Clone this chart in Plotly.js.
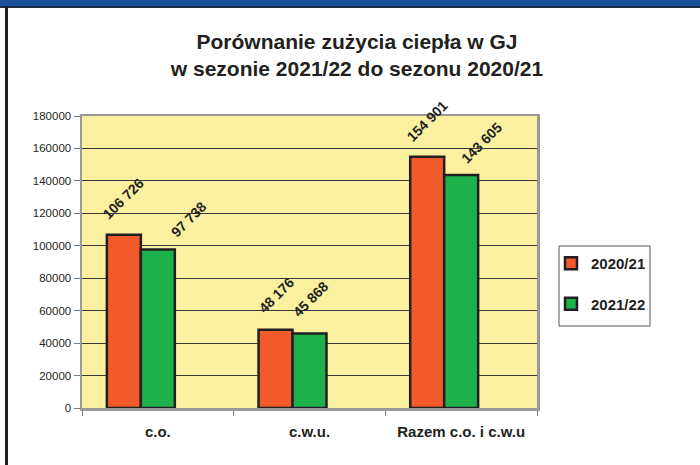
<!DOCTYPE html>
<html>
<head>
<meta charset="utf-8">
<script src="https://cdn.plot.ly/plotly-3.0.1.min.js"></script>
<style>
  html, body { margin: 0; padding: 0; background: #ffffff; }
  #wrap { position: relative; width: 700px; height: 465px; overflow: hidden; }
  #chart { position: absolute; left: 0; top: 0; width: 700px; height: 465px; }
  #band { position: absolute; left: 0; top: 0; width: 700px; height: 6px; background: #1a4f9a; border-bottom: 2px solid #1c2a44; z-index: 5; }
  #leftline { position: absolute; left: 5px; top: 6px; width: 3px; height: 459px; background: #231f20; z-index: 5; }
</style>
</head>
<body>
<div id="wrap">
  <div id="chart"></div>
  <div id="band"></div>
  <div id="leftline"></div>
</div>
<script>
// ---- data ----
const categories = ["c.o.", "c.w.u.", "Razem c.o. i c.w.u"];
const seriesNames = ["2020/21", "2021/22"];
const values2020 = [106726, 48176, 154901];
const values2021 = [97738, 45868, 143605];
const yTickVals = [0, 20000, 40000, 60000, 80000, 100000, 120000, 140000, 160000, 180000];
const titleText = "Porównanie zużycia ciepła w GJ<br>w sezonie 2021/22 do sezonu 2020/21";

// ---- style ----
const colors = ["#f15a29", "#1db04b"];
const outline = "#231f20";
const font = "Liberation Sans, Arial, sans-serif";
const W = 700, H = 465;
const plotL = 82, plotR = 163, plotT = 116, plotB = 57;
const plotW = W - plotL - plotR;
const plotH = H - plotT - plotB;
const catPx = plotW / categories.length;
const barW = 0.224;
const offsets = [-0.336, -0.112];
// label pixel nudges (per series, per point)
const labelDx = [[0, 1, 0], [31, 1, 20]];
const labelDy = [[10, 11, 9], [7, 11, 6]];
const px2x = p => (p - plotL) / plotW;
const px2y = p => (H - plotB - p) / plotH;

function fmt(v) { return String(v).replace(/\B(?=(\d{3})+(?!\d))/g, " "); }

const seriesVals = [values2020, values2021];
const traces = seriesVals.map((vals, i) => ({
  type: "bar",
  name: seriesNames[i],
  x: categories,
  y: vals,
  width: barW,
  offset: offsets[i],
  legendgroup: "g" + i,
  marker: { color: colors[i], line: { color: outline, width: 2.5 } },
  hoverinfo: "none"
}));

const annotations = [];
seriesVals.forEach((vals, i) => {
  vals.forEach((v, j) => {
    const centerUnits = offsets[i] + barW / 2;
    annotations.push({
      x: categories[j], y: v, xref: "x", yref: "y",
      text: fmt(v),
      showarrow: false,
      textangle: -45,
      xanchor: "center", yanchor: "bottom",
      xshift: centerUnits * catPx + labelDx[i][j],
      yshift: labelDy[i][j],
      font: { family: font, size: 14, color: outline, weight: "bold" }
    });
  });
});

const layout = {
  width: W, height: H,
  margin: { l: plotL, r: plotR, t: plotT, b: plotB, pad: 0 },
  paper_bgcolor: "#ffffff",
  plot_bgcolor: "#faf0a0",
  font: { family: font, color: outline },
  title: {
    text: titleText,
    font: { family: font, size: 21, color: outline, weight: "bold" },
    x: 0.51, xref: "container", xanchor: "center",
    y: 1 - 49 / H, yref: "container", yanchor: "middle"
  },
  showlegend: true,
  legend: {
    x: px2x(551), xanchor: "left",
    y: px2y(247), yanchor: "top",
    borderwidth: 0, bgcolor: "rgba(0,0,0,0)",
    font: { family: font, size: 15, color: outline, weight: "bold" },
    traceorder: "grouped", tracegroupgap: 18,
    itemwidth: 30
  },
  shapes: [{
    type: "rect", xref: "paper", yref: "paper",
    x0: px2x(559), x1: px2x(650), y0: px2y(326), y1: px2y(246),
    line: { color: "#555555", width: 1 }, fillcolor: "rgba(0,0,0,0)"
  }],
  xaxis: {
    type: "category",
    range: [-0.5, 2.5],
    tickson: "boundaries",
    ticks: "outside", ticklen: 5, tickwidth: 1, tickcolor: "#777777",
    showline: true, linecolor: "#999999", linewidth: 2.5, mirror: true,
    showgrid: false, zeroline: false,
    ticklabelstandoff: 8,
    tickfont: { family: font, size: 15, color: outline, weight: "bold" },
    fixedrange: true
  },
  yaxis: {
    range: [0, 180000],
    tickvals: yTickVals,
    ticktext: yTickVals.map(String),
    ticks: "outside", ticklen: 6, tickwidth: 1, tickcolor: "#777777",
    showline: true, linecolor: "#999999", linewidth: 2.5, mirror: true,
    showgrid: true, gridcolor: "#3a3a3a", gridwidth: 1,
    zeroline: false,
    tickfont: { family: font, size: 11.5, color: outline },
    fixedrange: true
  },
  bargap: 0,
  annotations: annotations
};

Plotly.newPlot("chart", traces, layout, { displayModeBar: false, staticPlot: true });
</script>
</body>
</html>
